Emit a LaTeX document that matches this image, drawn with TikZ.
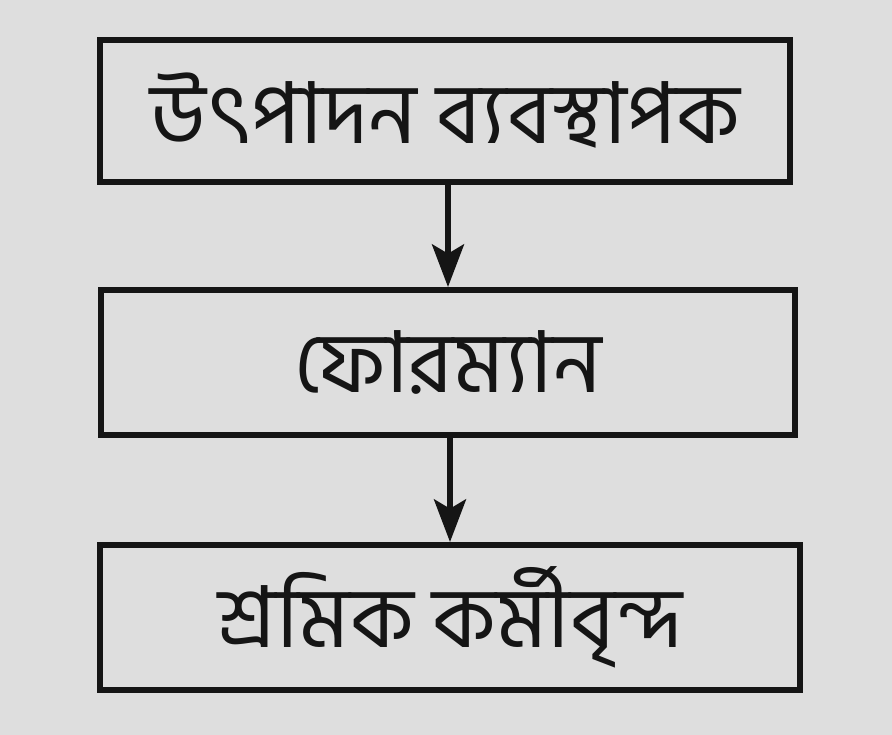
\documentclass[tikz,border=0pt]{standalone}
\usepackage{fontspec}
\newfontfamily\bn[Script=Bengali]{Hind Siliguri}
\usetikzlibrary{arrows.meta}
\definecolor{bgpaper}{HTML}{DEDEDE}
\definecolor{ink}{HTML}{151515}
\begin{document}
\begin{tikzpicture}[x=0.75pt,y=-0.75pt,
  box/.style={draw=ink, line width=4.5pt, inner sep=0pt, text=ink,
    font=\bn\fontsize{64pt}{72pt}\selectfont},
  arr/.style={draw=ink, line width=4pt, -{Stealth[length=32pt,width=24pt,inset=7pt]}}]
\fill[bgpaper] (0,0) rectangle (892,735);
\useasboundingbox (0,0) rectangle (892,735);
\node[box, minimum width=517.5pt, minimum height=106.5pt] (b1) at (445,111) {উৎপাদন ব্যবস্থাপক};
\node[box, minimum width=521pt, minimum height=108.75pt] (b2) at (448,362.5) {ফোরম্যান};
\node[box, minimum width=525pt, minimum height=108.75pt] (b3) at (450,617.5) {শ্রমিক কর্মীবৃন্দ};
\draw[arr] (b2.north |- b1.south) -- (b2.north);
\draw[arr] (b3.north |- b2.south) -- (b3.north);
\end{tikzpicture}
\end{document}
